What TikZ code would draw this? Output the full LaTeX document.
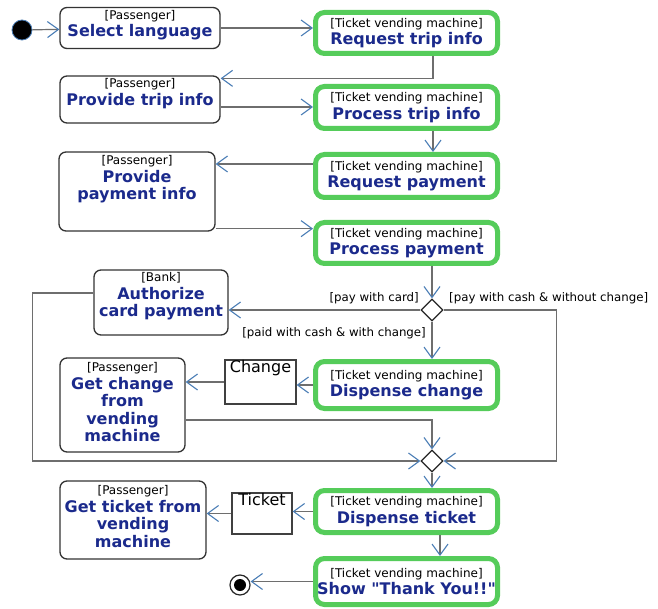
\documentclass[tikz,border=0pt]{standalone}
\usepackage{fontspec}
\setmainfont{DejaVu Sans}
\usetikzlibrary{arrows.meta,shapes.geometric}
\definecolor{actblue}{HTML}{1B2A8C}
\definecolor{machgreen}{HTML}{55CC5A}
\definecolor{tipblue}{HTML}{4A7DB5}
\definecolor{linegray}{HTML}{6E6E6E}
\newcommand{\who}[1]{{\fontsize{12}{12.5}\selectfont[#1]}}
\newcommand{\act}[1]{\textcolor{actblue}{\bfseries #1}}
\tikzset{
    passbox/.style={draw=black!80, line width=1.3pt, rounded corners=7pt, fill=white},
    machbox/.style={draw=machgreen, line width=5pt, rounded corners=9pt, fill=white,
      minimum width=182pt, align=center, inner sep=1pt, font=\fontsize{16}{17.5}\selectfont},
    objbox/.style={draw=black!75, line width=1.3pt, fill=white},
    boxtext/.style={anchor=north, align=center, inner sep=1pt, font=\fontsize{16}{17.5}\selectfont},
    objtext/.style={anchor=north, inner sep=1pt, font=\fontsize{16}{18}\selectfont},
    flow/.style={draw=linegray, line width=1.2pt,
      -{Straight Barb[length=11pt,width=16pt,line width=1.1pt,color=tipblue]}},
    decision/.style={diamond, draw=black!85, line width=1.2pt, fill=white,
      minimum width=22pt, minimum height=22pt, inner sep=0pt},
    guard/.style={inner sep=1pt, font=\fontsize{11.8}{12}\selectfont},
  }
\begin{document}
\begin{tikzpicture}[x=1pt,y=-1pt]
  \useasboundingbox (0,0) rectangle (658,609);
  %START AND END
  \node[circle, fill=black, draw=tipblue, line width=0.8pt, minimum size=20pt, inner sep=0pt] (init) at (22,30) {};
  \node[circle, draw=black!85, line width=1.2pt, fill=white, minimum size=20pt, inner sep=0pt] (final) at (240,585) {};
  \fill (final.center) circle (6);
  %PASSENGER, BANK
  \node[passbox, minimum width=160, minimum height=41] (sel) at (140,28) {};
  \node[boxtext] (sel-txt) at ([yshift=-2pt]sel.north) {\who{Passenger}\\\act{Select language}};
  \node[passbox, minimum width=160, minimum height=47] (provtrip) at (140,99.5) {};
  \node[boxtext] (provtrip-txt) at ([yshift=-2pt]provtrip.north) {\who{Passenger}\\\act{Provide trip info}};
  \node[passbox, minimum width=156, minimum height=79] (provpay) at (137,191.5) {};
  \node[boxtext] (provpay-txt) at ([yshift=-3pt]provpay.north) {\who{Passenger}\\\act{Provide}\\\act{payment info}};
  \node[passbox, minimum width=134, minimum height=65] (auth) at (161,302.5) {};
  \node[boxtext] (auth-txt) at ([yshift=-2pt]auth.north) {\who{Bank}\\\act{Authorize}\\\act{card payment}};
  \node[passbox, minimum width=125, minimum height=94] (getchange) at (122.5,405) {};
  \node[boxtext] (getchange-txt) at ([yshift=-4pt]getchange.north) {\who{Passenger}\\\act{Get change}\\\act{from}\\\act{vending}\\\act{machine}};
  \node[passbox, minimum width=146, minimum height=78] (getticket) at (133,520) {};
  \node[boxtext] (getticket-txt) at ([yshift=-4pt]getticket.north) {\who{Passenger}\\\act{Get ticket from}\\\act{vending}\\\act{machine}};
  %TICKET VENDING MACHINE
  \node[machbox, minimum height=41] (reqtrip) at (406.5,33) {\who{Ticket vending machine}\\\act{Request trip info}};
  \node[machbox, minimum height=42] (proctrip) at (406.5,107.5) {\who{Ticket vending machine}\\\act{Process trip info}};
  \node[machbox, minimum height=43] (reqpay) at (406.5,176) {\who{Ticket vending machine}\\\act{Request payment}};
  \node[machbox, minimum height=41] (procpay) at (406.5,243) {\who{Ticket vending machine}\\\act{Process payment}};
  \node[machbox, minimum height=47] (dispchange) at (406.5,385) {\who{Ticket vending machine}\\\act{Dispense change}};
  \node[machbox, minimum height=42] (dispticket) at (406.5,511.5) {\who{Ticket vending machine}\\\act{Dispense ticket}};
  \node[machbox, minimum height=46] (thanks) at (406.5,581.5) {\who{Ticket vending machine}\\\act{Show \textquotedbl Thank You!!\textquotedbl}};
  %OBJECTS
  \node[objbox, minimum width=71, minimum height=44] (change) at (260.5,382) {};
  \node[objtext] (change-txt) at (change.north) {Change};
  \node[objbox, minimum width=60, minimum height=41] (ticket) at (262,513.5) {};
  \node[objtext] (ticket-txt) at (ticket.north) {Ticket};
  %DECISION, MERGE
  \node[decision] (dec) at (432,310) {};
  \node[decision] (merge) at (432,461) {};
  \node[guard, anchor=east] (g-card) at (420,298) {[pay with card]};
  \node[guard, anchor=west] (g-nochange) at (448,298) {[pay with cash \& without change]};
  \node[guard, anchor=east] (g-change) at (427,333) {[paid with cash \& with change]};
  %FLOWS
  \draw[flow] (init) -- (sel);
  \draw[flow] (sel.east) -- (sel.east -| reqtrip.west);
  \draw[flow] ([xshift=26.5pt]reqtrip.south) |- ([yshift=-3pt]provtrip.north east);
  \draw[flow] ([yshift=-7.5pt]provtrip.east) -- ([yshift=-7.5pt]provtrip.east -| proctrip.west);
  \draw[flow] ([xshift=26.5pt]proctrip.south) -- ([xshift=26.5pt]reqpay.north);
  \draw[flow] ([yshift=12pt]reqpay.west) -- ([yshift=12pt]reqpay.west -| provpay.east);
  \draw[flow] ([yshift=3pt]provpay.south east) -- ([yshift=3pt]provpay.south east -| procpay.west);
  \draw[flow] (procpay.south -| dec.north) -- (dec.north);
  \draw[flow] (dec.west) -- (dec.west -| auth.east);
  \draw[flow] (dec.east) -- ++(113,0) |- (merge.east);
  \draw[flow] (dec.south) -- (dec.south |- dispchange.north);
  \draw[flow] (dispchange.west) -- (dispchange.west -| change.east);
  \draw[flow] (change.west) -- (change.west -| getchange.east);
  \draw[flow] ([yshift=-15pt]getchange.east) -| (merge.north);
  \draw[flow] ([yshift=9.5pt]auth.west) -- ++(-61,0) |- (merge.west);
  \draw[flow] (merge.south) -- (merge.south |- dispticket.north);
  \draw[flow] (dispticket.west) -- (dispticket.west -| ticket.east);
  \draw[flow] (ticket.west) -- (ticket.west -| getticket.east);
  \draw[flow] ([xshift=33.5pt]dispticket.south) -- ([xshift=33.5pt]thanks.north);
  \draw[flow] (thanks.west) -- (thanks.west -| final.east);
\end{tikzpicture}
\end{document}
